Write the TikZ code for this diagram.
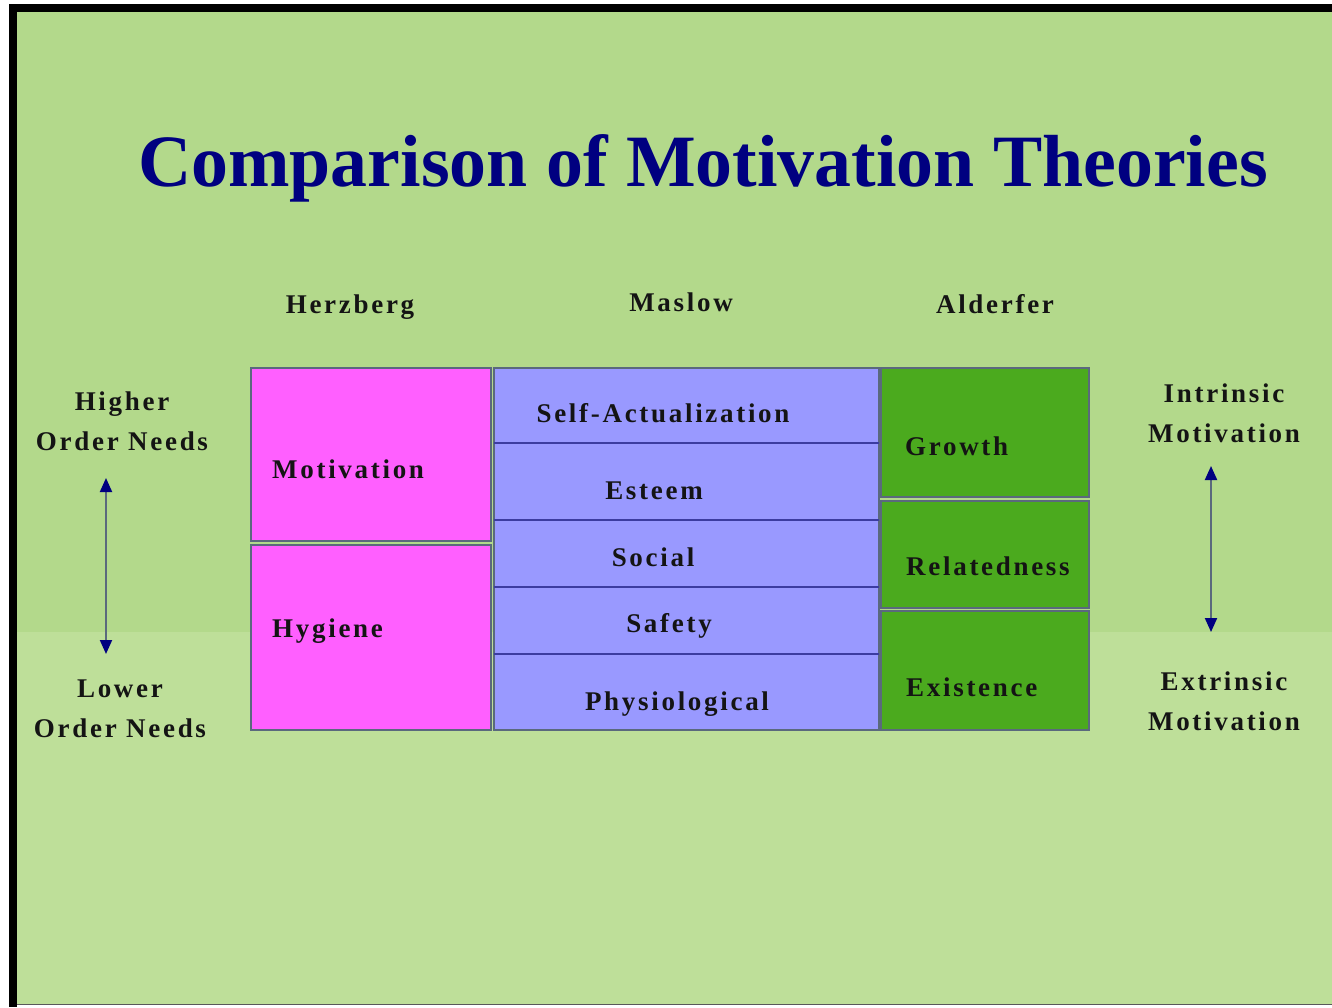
\documentclass[tikz,border=0pt]{standalone}
\usepackage{fontspec}
\setmainfont{Liberation Serif}
\newfontfamily\lblfont[LetterSpace=10]{Liberation Serif}
\newfontfamily\titlefont{Liberation Serif}
\usetikzlibrary{arrows.meta}
\definecolor{bgtop}{RGB}{179,217,139}
\definecolor{bgbot}{RGB}{190,223,153}
\definecolor{navyt}{RGB}{0,0,128}
\definecolor{pinkbox}{RGB}{255,95,255}
\definecolor{lavbox}{RGB}{153,153,255}
\definecolor{greenbox}{RGB}{75,170,30}
\definecolor{edgegrey}{RGB}{90,105,125}
\definecolor{divblue}{RGB}{60,60,160}
\definecolor{txtdark}{RGB}{20,20,20}
\tikzset{
  lbl/.style={font=\lblfont\fontsize{27}{27}\selectfont\bfseries, text=txtdark, inner sep=0pt},
  two/.style={lbl, align=center, font=\lblfont\fontsize{27}{40}\selectfont\bfseries},
  boxtxt/.style={lbl, anchor=base west},
  ctrtxt/.style={lbl, anchor=base},
  cell/.style={draw=edgegrey, line width=1.8pt},
  dblarrow/.style={draw=edgegrey, line width=2pt,
     {Triangle[width=12pt,length=14pt,color=navyt]}-{Triangle[width=12pt,length=14pt,color=navyt]}}
}
\begin{document}
\begin{tikzpicture}[x=1pt,y=-1pt]
\useasboundingbox (0,0) rectangle (1332,1007);
% background
\fill[white] (0,0) rectangle (1332,1007);
\fill[bgtop] (13,8) rectangle (1332,632);
\fill[bgbot] (13,632) rectangle (1332,1004);
\draw[gray!70!black, line width=1.2pt] (13,1004.5) -- (1332,1004.5);
\fill[black] (9,4) rectangle (1332,12);
\fill[black] (9,4) rectangle (17,1007);
% title
\node[font=\titlefont\fontsize{73.8}{73.8}\selectfont\bfseries, text=navyt, anchor=base, inner sep=0pt] (title) at (703,186) {Comparison of Motivation Theories};
% headings
\node[ctrtxt] (herz) at (350,313) {Herzberg};
\node[ctrtxt] (mas) at (681,311) {Maslow};
\node[ctrtxt] (ald) at (995,313) {Alderfer};
% Herzberg boxes
\draw[cell, fill=pinkbox] (251,368) rectangle (491,541);
\draw[cell, fill=pinkbox] (251,545) rectangle (491,730);
\node[boxtxt] (mot) at (272,478) {Motivation};
\node[boxtxt] (hyg) at (272,637) {Hygiene};
% Maslow
\draw[cell, fill=lavbox] (494,368) rectangle (879,730);
\draw[divblue, line width=1.5pt] (494,443) -- (879,443);
\draw[divblue, line width=1.5pt] (494,520) -- (879,520);
\draw[divblue, line width=1.5pt] (494,587) -- (879,587);
\draw[divblue, line width=1.5pt] (494,654) -- (879,654);
\node[ctrtxt] (self) at (663,422) {Self-Actualization};
\node[ctrtxt] (est) at (654,499) {Esteem};
\node[ctrtxt] (soc) at (653,566) {Social};
\node[ctrtxt] (saf) at (669,632) {Safety};
\node[ctrtxt] (phy) at (677,710) {Physiological};
% Alderfer
\draw[cell, fill=greenbox] (881,368) rectangle (1089,497);
\draw[cell, fill=greenbox] (881,501) rectangle (1089,608);
\draw[cell, fill=greenbox] (881,611) rectangle (1089,730);
\node[boxtxt] (gro) at (905,455) {Growth};
\node[boxtxt] (rel) at (906,575) {Relatedness};
\node[boxtxt] (exi) at (906,696) {Existence};
% side labels
\node[two, anchor=north] (high) at (122,392) {Higher\\Order Needs};
\node[two, anchor=north] (low) at (120,680) {Lower\\Order Needs};
\node[two, anchor=north] (intr) at (1224,384) {Intrinsic\\Motivation};
\node[two, anchor=north] (extr) at (1224,672) {Extrinsic\\Motivation};
% arrows
\coordinate (la) at (106,478);
\coordinate (lb) at (106,654);
\coordinate (ra) at (1211,466);
\coordinate (rb) at (1211,632);
\draw[dblarrow] (la) -- (lb);
\draw[dblarrow] (ra) -- (rb);
\end{tikzpicture}
\end{document}
